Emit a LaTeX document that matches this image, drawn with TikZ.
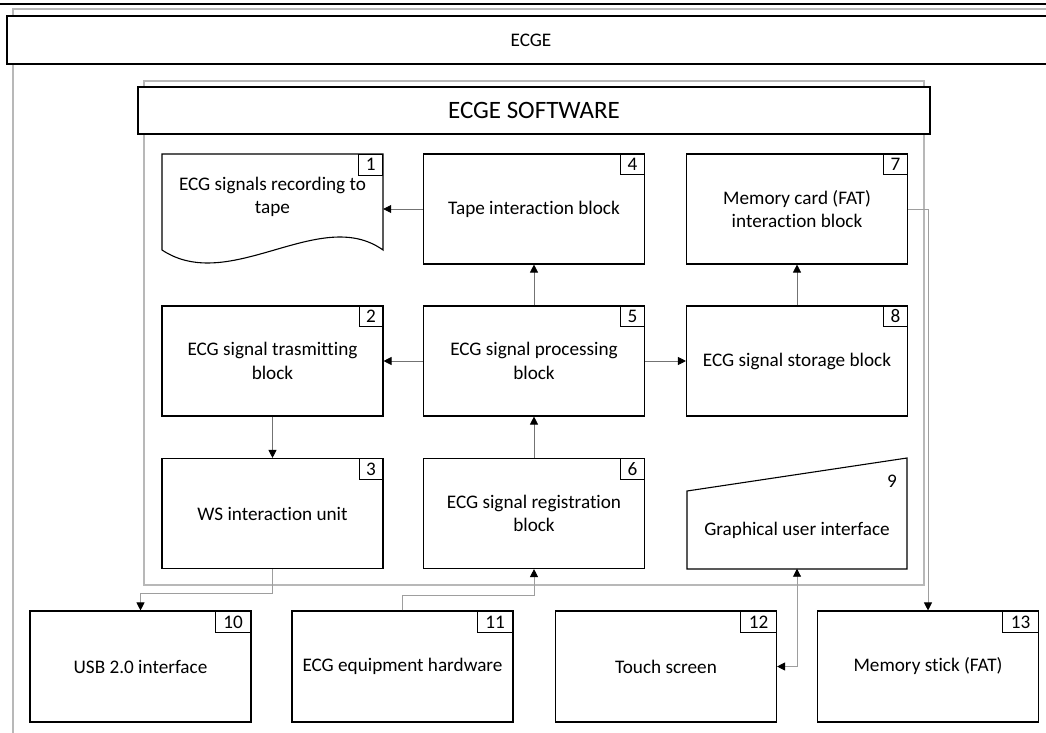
\documentclass[tikz,border=0pt]{standalone}
\usepackage{fontspec}
\setmainfont{Carlito}[Ligatures=NoCommon]
\usetikzlibrary{arrows.meta}
\newcommand\blockfont{\fontsize{19.2}{23.5}\selectfont}
\newcommand\titlefont{\fontsize{25}{30}\selectfont}
\begin{document}
\begin{tikzpicture}[x=1pt,y=-1pt,
  blk/.style={draw, fill=white, line width=1.1pt, minimum width=221pt, minimum height=110pt,
              inner sep=0pt, align=center, font=\blockfont},
  ghost/.style={minimum width=221pt, minimum height=110pt, inner sep=0pt},
  numbox/.style={draw, line width=1pt, anchor=north east, minimum width=24pt,
                 minimum height=21pt, inner sep=0pt, font=\blockfont},
  numboxw/.style={numbox, minimum width=36pt, minimum height=22pt},
  titlebox/.style={draw, fill=white, line width=1.2pt, inner sep=0pt, align=center},
  frame/.style={draw=black!28, line width=1.5pt},
  tip/.style={-{Triangle[length=8pt,width=8pt,color=black]}},
  conn/.style={draw=black!55, line width=0.8pt, tip},
  ext/.style={draw=black!38, line width=0.9pt, tip},
  lbl/.style={align=center, font=\blockfont, inner sep=0pt}
]
\useasboundingbox (0,0) rectangle (1046,733);
\clip (0,0) rectangle (1046,733);
\fill[white] (0,0) rectangle (1046,733);

% page rule at the very top
\draw[line width=2.5pt] (0,4) -- (1046,4);

% ECGE container
\draw[frame] (13,760) -- (13,9) -- (1070,9);
\node[titlebox, minimum width=1048pt, minimum height=48pt, font=\blockfont] (ecge) at (531,40) {ECGE};

% ECGE software container
\draw[frame] (144,81) rectangle (924,585);
\node[titlebox, minimum width=792pt, minimum height=47pt, font=\titlefont] (soft) at (534,110.5) {ECGE SOFTWARE};

% row 1
\node[ghost] (b1) at (272.5,209) {};
\draw[line width=1.1pt, fill=white] (162,154) -- (383,154) -- (383,250)
   .. controls (320,205) and (230,295) .. (162,250) -- cycle;
\node[lbl] at (272.5,197) {ECG signals recording to\\tape};
\node[numbox] at (b1.north east) {1};

\node[blk] (b4) at (534,209) {Tape interaction block};
\node[numbox] at (b4.north east) {4};

\node[blk] (b7) at (797,209) {Memory card (FAT)\\interaction block};
\node[numbox] at (b7.north east) {7};

% row 2
\node[blk] (b2) at (272.5,361) {ECG signal trasmitting\\block};
\node[numbox] at (b2.north east) {2};

\node[blk] (b5) at (534,361) {ECG signal processing\\block};
\node[numbox] at (b5.north east) {5};

\node[blk] (b8) at (797,361) {ECG signal storage block};
\node[numbox] at (b8.north east) {8};

% row 3
\node[blk] (b3) at (272.5,513.5) {WS interaction unit};
\node[numbox] at (b3.north east) {3};

\node[blk] (b6) at (534,513.5) {ECG signal registration\\block};
\node[numbox] at (b6.north east) {6};

\node[ghost] (b9) at (797,513.5) {};
\draw[line width=1.1pt, fill=white] (687,491) -- (907,458) -- (907,569) -- (687,569) -- cycle;
\node[lbl] at (797,530) {Graphical user interface};
\node[lbl] at (892,481) {9};

% external devices
\node[blk, minimum height=111pt] (b10) at (140.5,666.5) {USB 2.0 interface};
\node[numboxw] at (b10.north east) {10};

\node[blk, minimum height=111pt] (b11) at (402.5,666.5) {ECG equipment hardware};
\node[numboxw] at (b11.north east) {11};

\node[blk, minimum height=111pt] (b12) at (666,666.5) {Touch screen};
\node[numboxw] at (b12.north east) {12};

\node[blk, minimum height=111pt] (b13) at (928,666.5) {Memory stick (FAT)};
\node[numboxw] at (b13.north east) {13};

% data flows inside the software
\draw[conn] (b4.west) -- (b1.east);
\draw[conn] (b5.north) -- (b4.south);
\draw[conn] (b5.west) -- (b2.east);
\draw[conn] (b5.east) -- (b8.west);
\draw[conn] (b8.north) -- (b7.south);
\draw[conn] (b2.south) -- (b3.north);
\draw[conn] (b6.north) -- (b5.south);

% links to the hardware
\draw[ext] (b3.south) -- ++(0,24) -| (b10.north);
\draw[ext] (b11.north) -- ++(0,-15) -| (b6.south);
\draw[ext, {Triangle[length=8pt,width=8pt,color=black]}-{Triangle[length=8pt,width=8pt,color=black]}] (b9.south) |- (b12.east);
\draw[ext] (b7.east) -| (b13.north);
\end{tikzpicture}
\end{document}
